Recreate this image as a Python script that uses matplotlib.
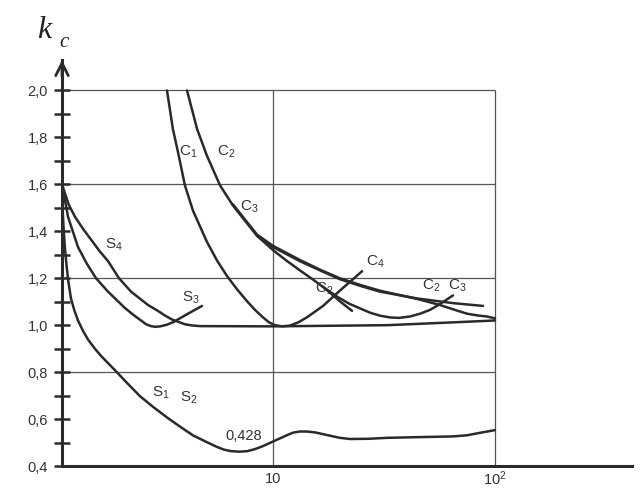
import matplotlib
matplotlib.use("Agg")
import matplotlib.pyplot as plt
import numpy as np

plt.rcParams['font.family'] = ['Liberation Sans', 'DejaVu Sans']
plt.rcParams['mathtext.fontset'] = 'custom'
plt.rcParams['mathtext.rm'] = 'Liberation Sans'
plt.rcParams['mathtext.it'] = 'Liberation Sans:italic'

# ---------------- data ----------------
x_s1 = [1.121, 1.127, 1.140, 1.156, 1.175, 1.193, 1.230, 1.275, 1.323, 1.395, 1.468, 1.570, 1.680,
        1.942, 2.22, 2.52, 2.90, 3.33, 3.85, 4.37, 5.00, 5.60, 6.00, 6.40, 7.00, 7.64, 8.30,
        9.02, 10.2, 11.0, 11.6, 12.3, 13.2, 14.2, 15.5, 17.5, 20.0, 22.2, 27.0, 32.7, 45.0,
        64.7, 75.0, 83.0, 100]
y_s1 = [1.60, 1.50, 1.41, 1.325, 1.255, 1.196, 1.114, 1.062, 1.020, 0.975, 0.939, 0.902, 0.869,
        0.808, 0.750, 0.697, 0.650, 0.607, 0.565, 0.530, 0.503, 0.481, 0.470, 0.464, 0.461,
        0.463, 0.472, 0.485, 0.508, 0.522, 0.532, 0.542, 0.547, 0.547, 0.543, 0.532, 0.520,
        0.515, 0.516, 0.520, 0.523, 0.526, 0.531, 0.539, 0.553]

x_s3 = [1.121, 1.193, 1.323, 1.45, 1.595, 1.806, 2.154, 2.35, 2.543, 2.68, 2.82, 2.95, 3.10,
        3.30, 3.54, 4.14, 4.79]
y_s3 = [1.60, 1.462, 1.333, 1.262, 1.200, 1.143, 1.073, 1.044, 1.020, 1.004, 0.996, 0.993,
        0.995, 1.001, 1.012, 1.049, 1.082]

x_s4 = [1.121, 1.20, 1.282, 1.40, 1.530, 1.66, 1.806, 2.025, 2.293, 2.735, 3.03, 3.25, 3.51,
        4.01, 4.30, 4.69, 10, 32.7, 64.7, 100]
y_s4 = [1.60, 1.515, 1.462, 1.408, 1.359, 1.314, 1.273, 1.200, 1.143, 1.086, 1.061, 1.042,
        1.024, 1.004, 0.999, 0.996, 0.995, 1.000, 1.012, 1.020]

x_c1 = [3.33, 3.54, 3.73, 4.01, 4.36, 5.04, 5.60, 6.21, 6.90, 7.64, 8.30, 9.02, 9.60, 10.2,
        11.0, 11.9, 13.0, 14.2, 16.8, 20.0, 25.2]
y_c1 = [2.00, 1.836, 1.739, 1.596, 1.488, 1.355, 1.275, 1.209, 1.152, 1.102, 1.065, 1.033,
        1.012, 1.000, 0.995, 0.998, 1.012, 1.033, 1.082, 1.147, 1.230]

x_c2 = [4.10, 4.55, 5.04, 5.77, 6.60, 7.48, 8.47, 10, 13.2, 16.5, 20.0, 25.0, 30.3, 44.5,
        64.7, 88.3]
y_c2 = [2.00, 1.836, 1.722, 1.596, 1.510, 1.445, 1.381, 1.333, 1.273, 1.231, 1.196, 1.166,
        1.143, 1.114, 1.094, 1.082]

x_c3 = [6.60, 7.48, 8.47, 10, 13.2, 16.5, 20.0, 25.0, 30.3, 44.5, 56.5, 66.0, 74.8, 84.0, 92, 100]
y_c3 = [1.515, 1.450, 1.386, 1.338, 1.278, 1.234, 1.200, 1.170, 1.147, 1.112, 1.086, 1.065,
        1.049, 1.041, 1.037, 1.029]

x_c2b = [8.47, 10, 11.5, 13.2, 15.0, 16.8, 18.4, 20.0, 22.7]
y_c2b = [1.381, 1.320, 1.275, 1.234, 1.197, 1.163, 1.132, 1.102, 1.061]

x_c2c = [16.8, 19.4, 22.2, 27.4, 30.5, 33.7, 37.0, 41.4, 46.0, 50.9, 56.5, 64.7]
y_c2c = [1.163, 1.122, 1.090, 1.053, 1.040, 1.033, 1.031, 1.037, 1.049, 1.065, 1.090, 1.127]

y_major = [0.4, 0.6, 0.8, 1.0, 1.2, 1.4, 1.6, 1.8, 2.0]
y_major_labels = ["0,4", "0,6", "0,8", "1,0", "1,2", "1,4", "1,6", "1,8", "2,0"]
y_minor = [0.5, 0.7, 0.9, 1.1, 1.3, 1.5, 1.7, 1.9]
h_grid = [0.8, 1.2, 1.6, 2.0]
v_grid = [10, 100]

# ---------------- figure ----------------
W, H = 640, 491
fig = plt.figure(figsize=(W / 100, H / 100), dpi=100)
fig.patch.set_facecolor('white')

def fx(px):
    return px / W

def fy(py):
    return 1 - py / H

ax = fig.add_axes([fx(62), fy(466), fx(632) - fx(62), fy(60) - fy(466)])
ax.set_xscale('log')
x_left = 10 ** (1 - (273 - 62) / 222)
x_right = 10 ** (2 + (632 - 495) / 222)
ax.set_xlim(x_left, x_right)
ax.set_ylim(0.4, 0.4 + (466 - 60) / 234.7)

lc = '#2a2a2a'
for s in ['top', 'right']:
    ax.spines[s].set_visible(False)
ax.spines['left'].set_linewidth(2.2)
ax.spines['bottom'].set_linewidth(2.2)
ax.spines['left'].set_color(lc)
ax.spines['bottom'].set_color(lc)

# grid (only inside the frame up to 100 / 2.0)
ax.hlines(h_grid, x_left, 100, colors='#555555', linewidth=0.9, zorder=1)
ax.vlines(v_grid, 0.4, 2.0, colors='#555555', linewidth=0.9, zorder=1)

# y ticks
ax.set_yticks(y_major)
ax.set_yticklabels(y_major_labels)
ax.set_yticks(y_minor, minor=True)
ax.tick_params(axis='y', which='both', direction='inout', length=12, width=1.8,
               colors=lc, labelsize=10.5, pad=4)
ax.tick_params(axis='y', which='both', labelcolor='#333333')

# x ticks: labels drawn as text below the axis
ax.xaxis.set_minor_locator(matplotlib.ticker.NullLocator())
ax.set_xticks([])
ax.text(10, -0.014, "10", transform=ax.get_xaxis_transform(), fontsize=10.5,
        color='#333333', ha='center', va='top')
ax.text(100, -0.008, "10$^2$", transform=ax.get_xaxis_transform(), fontsize=10.5,
        color='#333333', ha='center', va='top')

# y arrow head
ax.annotate('', xy=(0, 1.0), xycoords='axes fraction', xytext=(0, 0.96),
            textcoords='axes fraction',
            arrowprops=dict(arrowstyle='->,head_length=0.9,head_width=0.45', lw=2.0, color=lc,
                            shrinkA=0, shrinkB=0))

lw = 1.8
for xs, ys in [(x_s1, y_s1), (x_s3, y_s3), (x_s4, y_s4), (x_c1, y_c1), (x_c2, y_c2),
               (x_c3, y_c3), (x_c2b, y_c2b), (x_c2c, y_c2c)]:
    ax.plot(xs, ys, color=lc, linewidth=lw, solid_capstyle='round',
            solid_joinstyle='round', zorder=3)

# curve labels (placed by pixel position)
def lab(px, py, main, sub, size=11):
    fig.text(fx(px), fy(py), main + "$_{" + sub + "}$", fontsize=size, color='#333333',
             ha='left', va='center')

lab(179, 152, "C", "1")
lab(217, 152, "C", "2")
lab(240, 207, "C", "3")
lab(366, 262, "C", "4")
lab(315, 289, "C", "2")
lab(422, 286, "C", "2")
lab(448, 286, "C", "3")
lab(105, 245, "S", "4")
lab(182, 298, "S", "3")
lab(152, 393, "S", "1")
lab(180, 398, "S", "2")
fig.text(fx(225), fy(436), "0,428", fontsize=10.5, color='#333333', ha='left', va='center')

# axis name k_c
fig.text(fx(37), fy(38), "k", fontsize=23, family='Liberation Serif', style='italic',
         color='#222222', ha='left', va='baseline')
fig.text(fx(59), fy(47), "c", fontsize=15, family='Liberation Serif', style='italic',
         color='#222222', ha='left', va='baseline')

fig.savefig('out.png', dpi=100, facecolor='white')
